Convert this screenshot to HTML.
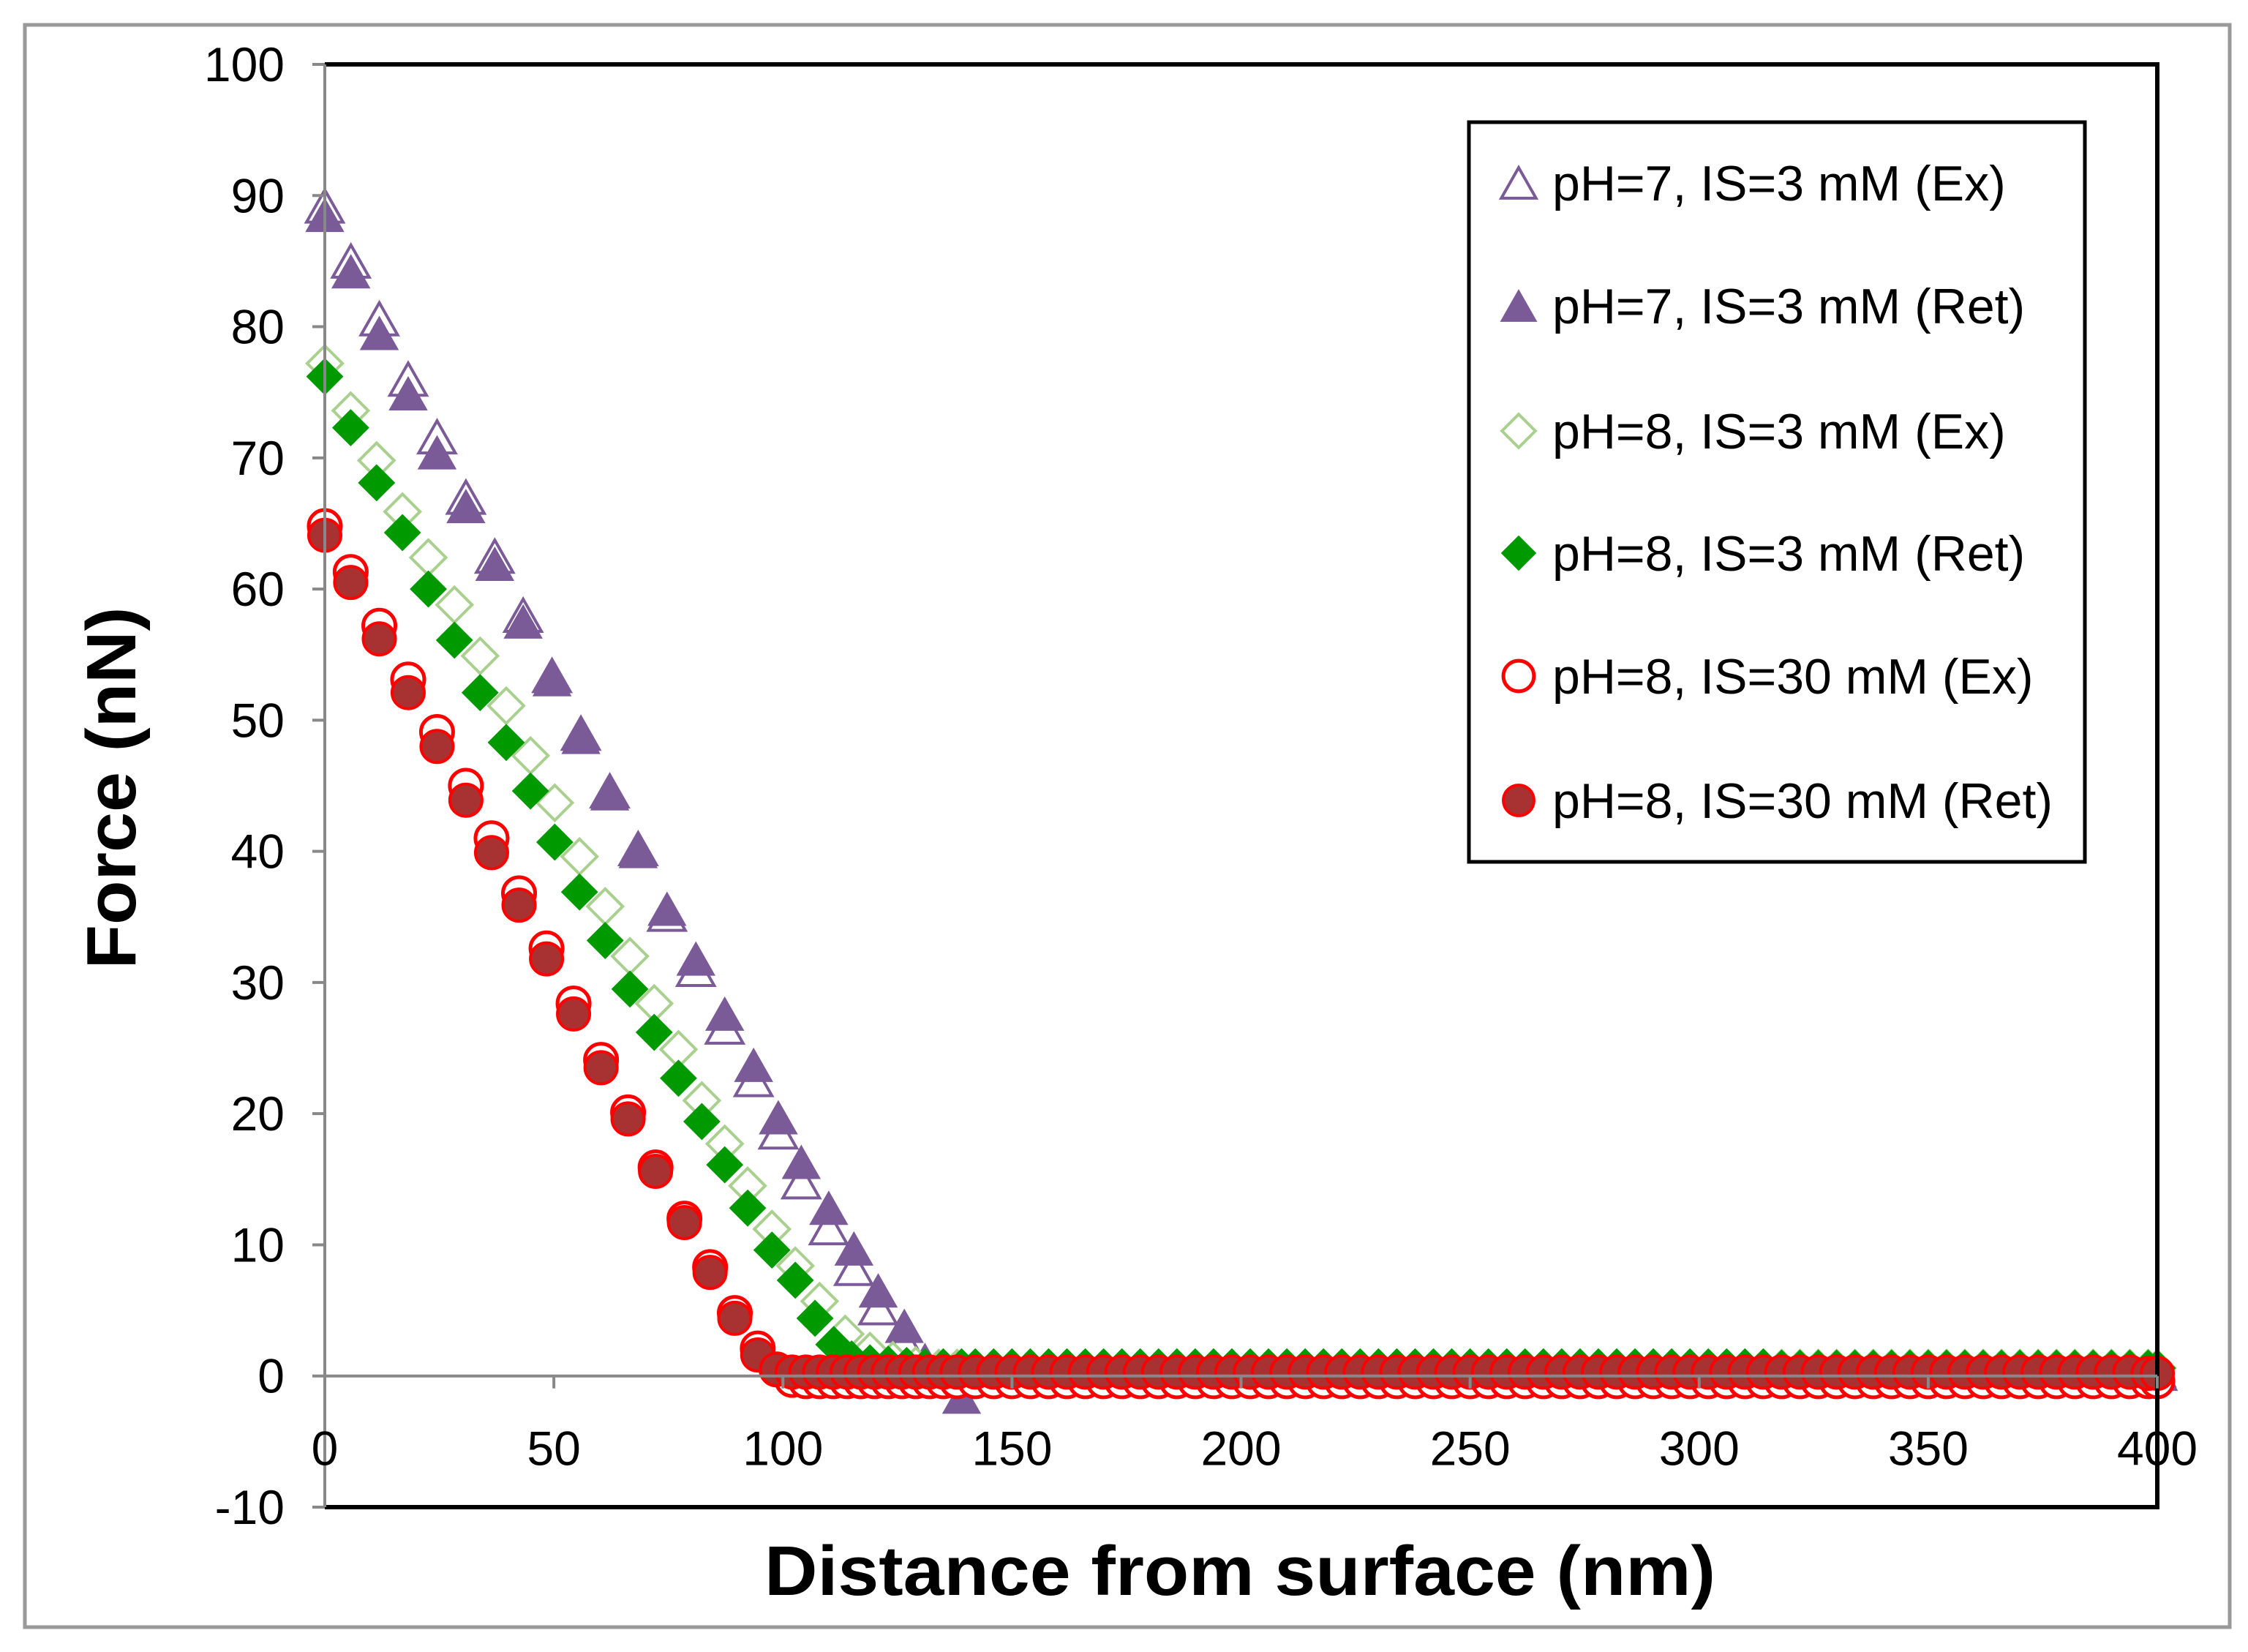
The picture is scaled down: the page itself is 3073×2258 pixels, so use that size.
<!DOCTYPE html>
<html><head><meta charset="utf-8"><style>
html,body{margin:0;padding:0;background:#fff;}
svg{display:block;font-family:"Liberation Sans",sans-serif;}
</style></head><body>
<svg id="chart" width="3073" height="2258" viewBox="0 0 3073 2258" xmlns="http://www.w3.org/2000/svg">
<rect x="34" y="34" width="3014" height="2190" fill="#fff" stroke="#999" stroke-width="5"/>
<g id="marks"></g>
<g id="axes"></g>
<g id="legend"></g>
<text x="0" y="0" transform="translate(185,1077) rotate(-90)" text-anchor="middle" font-size="96" font-weight="bold" textLength="495" lengthAdjust="spacingAndGlyphs">Force (nN)</text>
<text x="1695" y="2180" text-anchor="middle" font-size="96" font-weight="bold" textLength="1300" lengthAdjust="spacingAndGlyphs">Distance from surface (nm)</text>
</svg>
<script>
// ---- data ----
const xTicks = [0,50,100,150,200,250,300,350,400];
const yTicks = [-10,0,10,20,30,40,50,60,70,80,90,100];
const seriesNames = ["pH=7, IS=3 mM (Ex)","pH=7, IS=3 mM (Ret)","pH=8, IS=3 mM (Ex)","pH=8, IS=3 mM (Ret)","pH=8, IS=30 mM (Ex)","pH=8, IS=30 mM (Ret)"];
const tailX = [142,146,150,154,158,162,166,170,174,178,182,186,190,194,198,202,206,210,214,218,222,226,230,234,238,242,246,250,254,258,262,266,270,274,278,282,286,290,294,298,302,306,310,314,318,322,326,330,334,338,342,346,350,354,358,362,366,370,374,378,382,386,390,394,398,400];
const p7ExX = [0,5.7,11.9,18.2,24.5,30.8,37.1,43.3,49.6,55.9,62.2,68.4,74.7,81,87.3,93.6,99,104,110,115.5,120.8,126.5,131,136,139];
const p7ExY = [89.2,85,80.6,76,71.6,67,62.5,58,53.4,49,44.6,40.2,35.2,31,26.6,22.6,18.6,14.8,11.3,8.2,5.2,2.6,0.6,0,-0.3];
const p7RetX = [0,5.7,11.9,18.2,24.5,30.8,37.1,43.3,49.6,55.9,62.2,68.4,74.7,81,87.3,93.6,99,104,110,115.5,120.8,126.5,131,135,139];
const p7RetY = [88.5,84.2,79.5,74.9,70.4,66.3,61.9,57.5,53.1,48.7,44.4,40,35.6,31.8,27.6,23.7,19.7,16.3,12.8,9.7,6.5,3.8,1.2,0.2,-1.6];
const p8ExX = [0,5.65,11.3,16.95,22.6,28.3,33.9,39.6,44.9,50.2,55.6,61.2,66.6,71.9,77.2,82.3,87.3,92.3,97.6,102.7,108,113.6,119,124,129,134,138];
const p8ExY = [77.2,73.6,69.8,65.9,62.4,58.8,54.9,51.1,47.3,43.7,39.6,35.8,32,28.4,24.9,21,17.7,14.5,11.2,8.4,5.7,3.2,1.9,1.2,0.8,0.6,0.6];
const p8RetX = [0,5.65,11.3,16.95,22.6,28.3,33.9,39.6,44.9,50.2,55.6,61.2,66.6,71.9,77.2,82.3,87.3,92.3,97.6,102.7,107,111.1,115,119,123,127,131,135,139];
const p8RetY = [76.2,72.3,68.1,64.3,60,56.1,52.1,48.3,44.6,40.7,36.9,33.2,29.5,26.2,22.7,19.4,16.1,12.8,9.6,7.3,4.4,2.4,1.3,1.0,0.9,0.8,0.7,0.7,0.7];
const p30ExX = [0,5.65,11.9,18.2,24.5,30.8,36.4,42.4,48.4,54.3,60.3,66.2,72.2,78.5,84.1,89.5,94.5,98.6,102,105,108,111,114,117,120,123,126,129,132,135,138];
const p30ExY = [64.8,61.3,57.2,53.1,49.1,45,41,36.8,32.6,28.4,24.1,20.1,15.9,12,8.3,4.8,2.1,0.5,-0.3,-0.4,-0.4,-0.4,-0.4,-0.4,-0.4,-0.4,-0.4,-0.4,-0.4,-0.4,-0.4];
const p30RetX = [0,5.65,11.9,18.2,24.5,30.8,36.4,42.4,48.4,54.3,60.3,66.2,72.2,78.5,84.1,89.5,94.5,98.6,102,105,108,111,114,117,120,123,126,129,132,135,138];
const p30RetY = [64.1,60.5,56.2,52.1,48,43.9,39.9,35.9,31.8,27.6,23.5,19.6,15.6,11.7,7.9,4.4,1.6,0.5,0.3,0.3,0.3,0.3,0.3,0.3,0.3,0.3,0.3,0.3,0.3,0.3,0.3];
const tailP7Ex = [0.2,0.2,0.3,0.2,0.2,0.2,0.3,0.2,0.2,0.2,0.2,0.3,0.2,0.2,0.2,0.2,0.2,0.3,0.2,0.2,0.2,0.2,0.2,0.2,0.3,0.2,0.2,0.2,0.2,0.2,0.2,0.2,0.2,0.3,0.2,0.2,0.2,0.2,0.2,0.2,0.2,0.2,0.2,0.2,0.2,0.2,0.2,0.2,0.2,0.2,0.2,0.2,0.2,0.2,0.2,0.2,0.2,0.2,0.2,0.2,0.2,0.2,0.2,0.2,0.2,0.2];
const tailP7Ret = [-0.2,0.3,0.5,0.4,0.4,0.4,0.5,0.4,0.4,0.4,0.4,0.4,0.4,0.4,0.4,0.4,0.4,0.4,0.4,0.4,0.4,0.4,0.4,0.4,0.4,0.4,0.4,0.4,0.4,0.4,0.4,0.4,0.4,0.4,0.4,0.4,0.4,0.4,0.4,0.4,0.4,0.4,0.4,0.4,0.4,0.4,0.4,0.4,0.4,0.4,0.4,0.4,0.4,0.4,0.4,0.4,0.4,0.4,0.4,0.4,0.4,0.4,0.4,0.4,0.4,0.4];
const tailP8Ex = [0.6,0.6,0.6,0.6,0.6,0.6,0.6,0.6,0.6,0.6,0.6,0.6,0.6,0.6,0.6,0.6,0.6,0.6,0.6,0.6,0.6,0.6,0.6,0.6,0.6,0.6,0.6,0.6,0.6,0.6,0.6,0.6,0.6,0.6,0.6,0.6,0.6,0.6,0.6,0.6,0.6,0.6,0.6,0.6,0.6,0.6,0.6,0.6,0.6,0.6,0.6,0.6,0.6,0.6,0.6,0.6,0.6,0.6,0.6,0.6,0.6,0.6,0.6,0.6,0.6,0.6];
const tailP8Ret = [0.7,0.7,0.7,0.7,0.7,0.7,0.7,0.7,0.7,0.7,0.7,0.7,0.7,0.7,0.7,0.7,0.7,0.7,0.7,0.7,0.7,0.7,0.7,0.7,0.7,0.7,0.7,0.7,0.7,0.7,0.7,0.7,0.7,0.7,0.7,0.7,0.7,0.7,0.7,0.7,0.7,0.7,0.7,0.7,0.6,0.6,0.6,0.6,0.6,0.6,0.6,0.6,0.6,0.6,0.6,0.6,0.6,0.6,0.6,0.6,0.6,0.6,0.6,0.6,0.6,0.6];
const tailP30Ex = [-0.4,-0.4,-0.4,-0.4,-0.4,-0.4,-0.4,-0.4,-0.4,-0.4,-0.4,-0.4,-0.4,-0.4,-0.4,-0.4,-0.4,-0.4,-0.4,-0.4,-0.4,-0.4,-0.4,-0.4,-0.4,-0.4,-0.4,-0.4,-0.4,-0.4,-0.4,-0.4,-0.4,-0.4,-0.4,-0.4,-0.4,-0.4,-0.4,-0.4,-0.4,-0.4,-0.4,-0.4,-0.4,-0.4,-0.4,-0.4,-0.4,-0.4,-0.4,-0.4,-0.4,-0.4,-0.4,-0.4,-0.4,-0.4,-0.4,-0.4,-0.4,-0.4,-0.4,-0.4,-0.4,-0.4];
const tailP30Ret = [0.3,0.3,0.3,0.3,0.3,0.3,0.3,0.3,0.3,0.3,0.3,0.3,0.3,0.3,0.3,0.3,0.3,0.3,0.3,0.3,0.3,0.3,0.3,0.3,0.3,0.3,0.3,0.3,0.3,0.3,0.3,0.3,0.3,0.3,0.3,0.3,0.3,0.3,0.3,0.3,0.3,0.3,0.3,0.3,0.3,0.3,0.3,0.3,0.3,0.3,0.3,0.3,0.3,0.3,0.3,0.3,0.3,0.3,0.3,0.3,0.3,0.3,0.3,0.3,0.2,0.2];

// ---- layout ----
const PL=444, PR=2949, PT=88, PB=2060;
const XMIN=0, XMAX=400, YMIN=-10, YMAX=100;
function sx(v){return PL+(v-XMIN)/(XMAX-XMIN)*(PR-PL);}
function sy(v){return PB-(v-YMIN)/(YMAX-YMIN)*(PB-PT);}
const NS="http://www.w3.org/2000/svg";
function mk(tag,attrs,parent){const e=document.createElementNS(NS,tag);for(const k in attrs)e.setAttribute(k,attrs[k]);parent.appendChild(e);return e;}
const axes=document.getElementById('axes'), marks=document.getElementById('marks'), legend=document.getElementById('legend');

const border=mk('path',{d:`M${PL},${PT} H${PR} V${PB} H${PL}`,fill:'none',stroke:'#000','stroke-width':6},axes);


const yAxis=mk('line',{x1:PL,y1:PT,x2:PL,y2:PB,stroke:'#888','stroke-width':4},axes);


const xAxis=mk('line',{x1:PL,y1:sy(0),x2:PR,y2:sy(0),stroke:'#888','stroke-width':4},axes);



yTicks.forEach(v=>{
  const t=mk('line',{x1:PL-17,y1:sy(v),x2:PL,y2:sy(v),stroke:'#888','stroke-width':4},axes);
  
  
  const l=mk('text',{x:PL-55,y:sy(v)+23,'text-anchor':'end','font-size':66},axes);
  
  
  l.textContent=String(v);
});
xTicks.forEach(v=>{
  const t=mk('line',{x1:sx(v),y1:sy(0),x2:sx(v),y2:sy(0)+17,stroke:'#888','stroke-width':4},axes);
  
  
  const l=mk('text',{x:sx(v),y:sy(0)+122,'text-anchor':'middle','font-size':66},axes);
  
  
  l.textContent=String(v);
});

const styles=[
  {shape:'tri',fill:'#fff',stroke:'#7B5A98',sw:4},
  {shape:'tri',fill:'#7B5A98',stroke:'#7B5A98',sw:2},
  {shape:'dia',fill:'#fff',stroke:'#A9D08E',sw:4},
  {shape:'dia',fill:'#009900',stroke:'#009900',sw:2},
  {shape:'cir',fill:'#fff',stroke:'#FF0000',sw:5},
  {shape:'cir',fill:'#A83232',stroke:'#FF0000',sw:4}
];
function marker(st,cx,cy,parent,scale){
  const s=scale||1;
  if(st.shape==='tri'){
    const h=44*s,w=50*s;
    return mk('polygon',{points:`${cx},${cy-h/2} ${cx+w/2},${cy+h/2} ${cx-w/2},${cy+h/2}`,fill:st.fill,stroke:st.stroke,'stroke-width':st.sw},parent);
  } else if(st.shape==='dia'){
    const r=24*s;
    return mk('polygon',{points:`${cx},${cy-r} ${cx+r},${cy} ${cx},${cy+r} ${cx-r},${cy}`,fill:st.fill,stroke:st.stroke,'stroke-width':st.sw},parent);
  } else {
    return mk('circle',{cx:cx,cy:cy,r:22*s,fill:st.fill,stroke:st.stroke,'stroke-width':st.sw},parent);
  }
}
const seriesX=[p7ExX,p7RetX,p8ExX,p8RetX,p30ExX,p30RetX];
const seriesY=[p7ExY,p7RetY,p8ExY,p8RetY,p30ExY,p30RetY];
const tails=[tailP7Ex,tailP7Ret,tailP8Ex,tailP8Ret,tailP30Ex,tailP30Ret];
const seriesIds=['series-ph7-is3-ex','series-ph7-is3-ret','series-ph8-is3-ex','series-ph8-is3-ret','series-ph8-is30-ex','series-ph8-is30-ret'];
for(let i=0;i<6;i++){
  const g=mk('g',{},marks);
  
  
  const xs=seriesX[i].concat(tailX), ys=seriesY[i].concat(tails[i]);
  for(let j=0;j<xs.length;j++){
    const m=marker(styles[i],sx(xs[j]),sy(ys[j]),g);
    
    
  }
}

const lb=mk('rect',{x:2008,y:167,width:842,height:1011,fill:'#fff',stroke:'#000','stroke-width':5},legend);


const legY=[250,418,589,756,924,1094];
for(let i=0;i<6;i++){
  const g=mk('g',{},legend);
  
  
  const m=marker(styles[i],2076,legY[i],g,0.95);
  
  
  const t=mk('text',{x:2122,y:legY[i]+24,'font-size':68},g);
  
  
  t.textContent=seriesNames[i];
}
</script>
</body></html>
